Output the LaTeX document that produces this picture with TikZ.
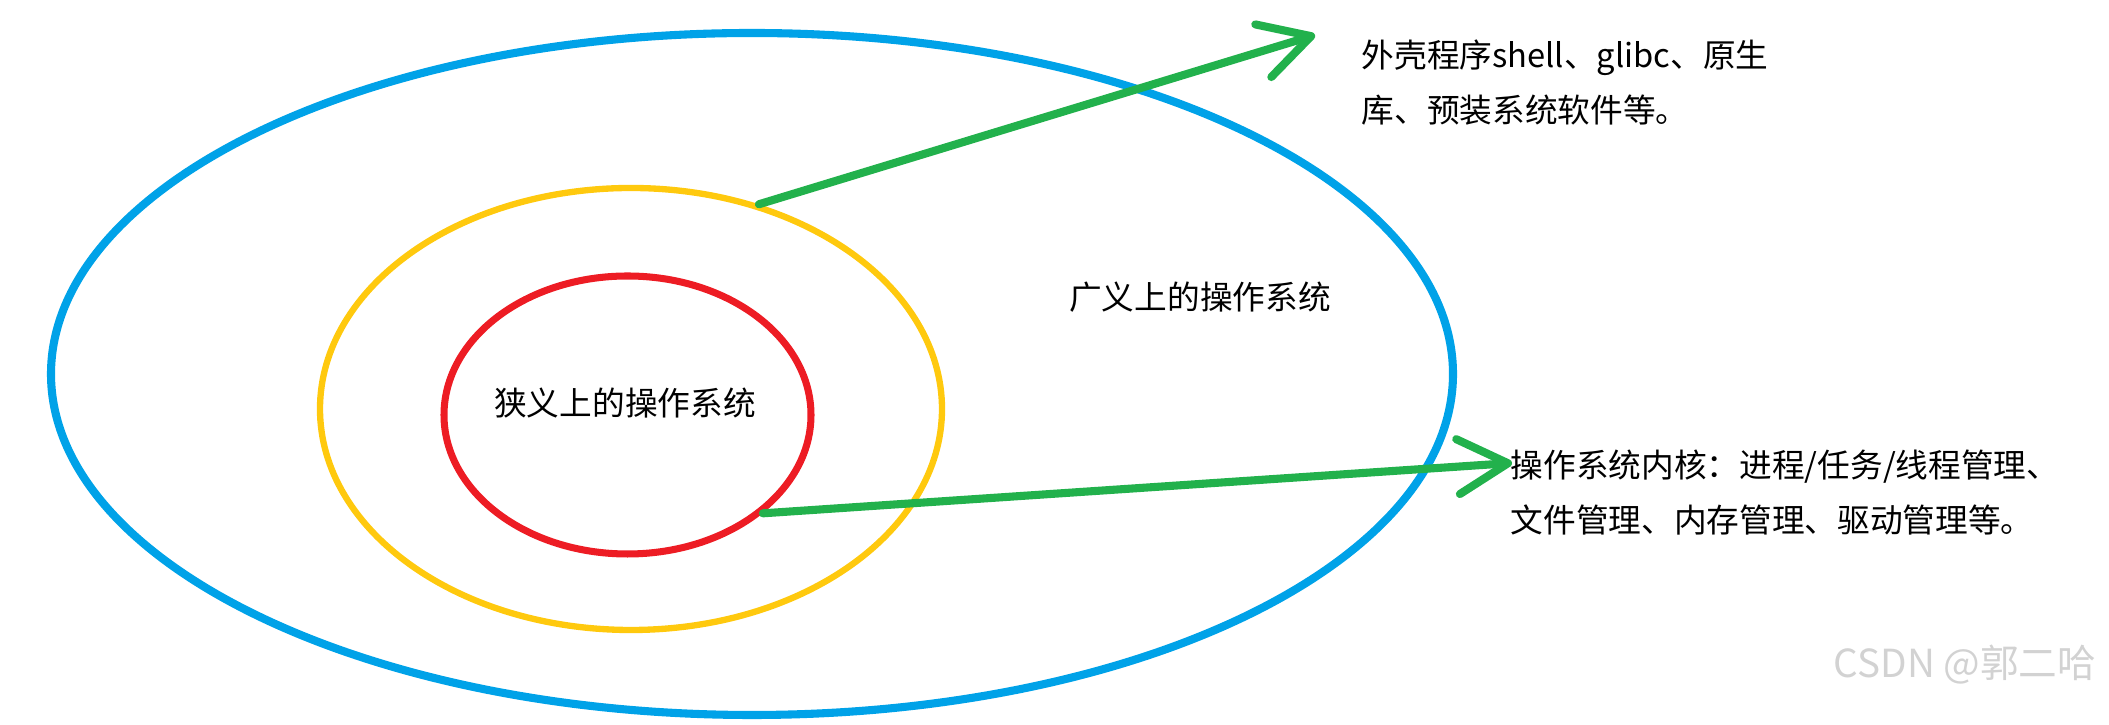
\documentclass[tikz,border=0pt]{standalone}
\usepackage{fontspec}
\setmainfont{Noto Sans CJK SC}
\usepackage{xcolor}
\usepackage{tikz}
\usetikzlibrary{arrows.meta}
\usetikzlibrary{shapes}
\usetikzlibrary{calc}

\definecolor{paintblue}{HTML}{00A2E8}
\definecolor{paintgold}{HTML}{FFC90E}
\definecolor{paintred}{HTML}{ED1C24}
\definecolor{paintgreen}{HTML}{22B14C}

\begin{document}
\begin{tikzpicture}
      \tikzstyle{every node}=[font=\fontsize{9.3pt}{15.6pt}\selectfont]
      \tikzstyle{ring}=[draw,ellipse,inner sep=0pt]
      \tikzstyle{pointer}=[draw=paintgreen,line width=2.3pt,line cap=round,-{Straight Barb[length=5mm,width=5.5mm,round]}]
      \tikzstyle{note}=[anchor=west,align=left,inner sep=0pt]

      \useasboundingbox (0,0) rectangle (21.09,7.25);

      \node [ring,draw=paintblue,line width=2.3pt,minimum width=14.02cm,minimum height=6.82cm] (broad) at (7.52,3.51) {};
      \node [ring,draw=paintgold,line width=1.8pt,minimum width=6.22cm,minimum height=4.42cm] (shellring) at (6.31,3.16) {};
      \node [ring,draw=paintred,line width=2pt,minimum width=3.67cm,minimum height=2.78cm] (kernelring) at (6.275,3.10) {};

      \node (narrowlabel) at (6.25,3.22) {狭义上的操作系统};
      \node (broadlabel) at (12.00,4.28) {广义上的操作系统};

      \node [note] (shell) at (13.61,6.425) {外壳程序shell、glibc、原生\\库、预装系统软件等。};
      \node [note] (kernel) at (15.10,2.325) {操作系统内核：进程/任务/线程管理、\\文件管理、内存管理、驱动管理等。};

      \coordinate (shelltip) at (13.15,6.90);
      \coordinate (kerneltip) at (15.12,2.62);

      \draw [pointer] (shellring.58) -- (shelltip);
      \draw [pointer] (kernelring.-36) -- (kerneltip);

      \node [text=gray!35,font=\fontsize{11pt}{13pt}\selectfont] (mark) at (19.65,0.60) {CSDN @郭二哈};
\end{tikzpicture}
\end{document}
